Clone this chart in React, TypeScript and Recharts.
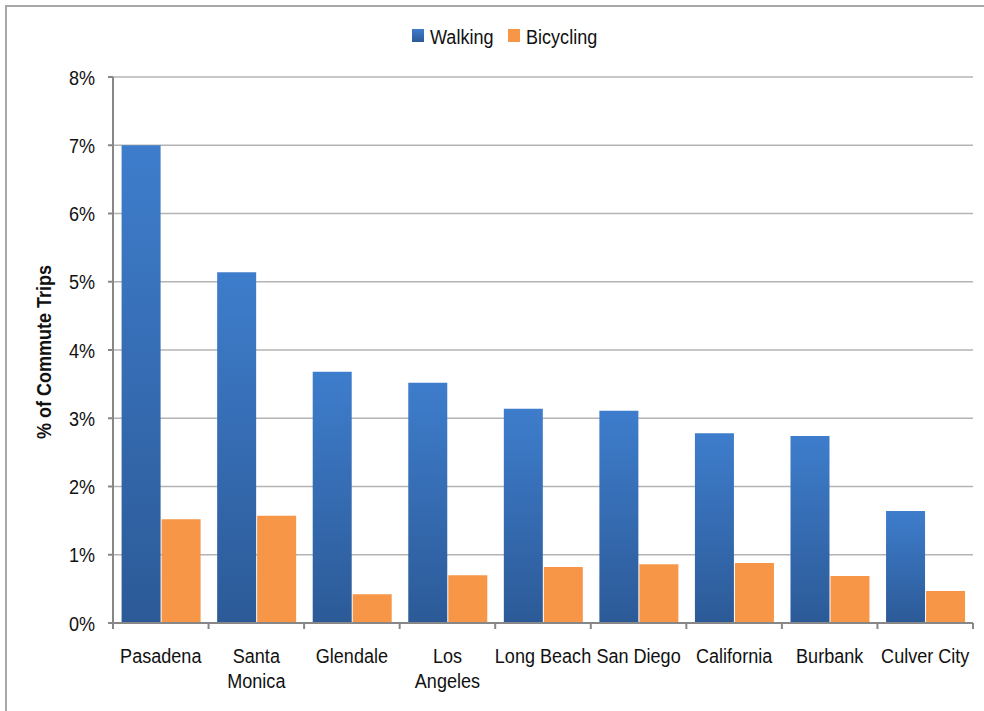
import React from "react";
import { BarChart, Bar, XAxis, YAxis, CartesianGrid, Label } from "recharts";

// Commute mode share by city (% of commute trips)
const cities = ["Pasadena", "Santa Monica", "Glendale", "Los Angeles", "Long Beach", "San Diego", "California", "Burbank", "Culver City"];
const tickLines = [["Pasadena"], ["Santa", "Monica"], ["Glendale"], ["Los", "Angeles"], ["Long Beach"], ["San Diego"], ["California"], ["Burbank"], ["Culver City"]];
const walking = [7.0, 5.14, 3.68, 3.52, 3.14, 3.11, 2.78, 2.74, 1.64];
const bicycling = [1.52, 1.57, 0.42, 0.7, 0.82, 0.86, 0.88, 0.69, 0.47];
const yTicks = [0, 1, 2, 3, 4, 5, 6, 7, 8];

const data = cities.map((c, i) => ({ city: c, walking: walking[i], bicycling: bicycling[i] }));

const W = 984;
const H = 711;
const PLOT_LEFT = 113;
const PLOT_RIGHT = 973;
const BAND = (PLOT_RIGHT - PLOT_LEFT) / cities.length;

// no narrow font installed, so squeeze Liberation Sans horizontally
const FONT = "'Liberation Sans', Arial, sans-serif";
const SQUEEZE = 0.86;
const AXIS = "#878787";
const GRID = "#b4b4b4";
const INK = "#111";
const ORANGE = "#f79646";

function CityTick(props: any) {
  const { x, y, index } = props;
  const lines = tickLines[index] ?? [props.payload?.value];
  const last = index === cities.length - 1;
  return (
    <g>
      <line x1={x - BAND / 2} x2={x - BAND / 2} y1={y} y2={y + 6} stroke={AXIS} strokeWidth={2} />
      {last && <line x1={x + BAND / 2} x2={x + BAND / 2} y1={y} y2={y + 6} stroke={AXIS} strokeWidth={2} />}
      <text transform={`translate(${x},${y + 40}) scale(${SQUEEZE},1)`} textAnchor="middle" fill={INK} fontSize={21} fontFamily={FONT}>
        {lines.map((l: string, i: number) => (
          <tspan key={i} x={0} dy={i ? 25 : 0}>{l}</tspan>
        ))}
      </text>
    </g>
  );
}

function PctTick(props: any) {
  const { x, y, payload } = props;
  return (
    <text transform={`translate(${x},${y}) scale(${SQUEEZE},1)`} textAnchor="end" dy="0.36em" fill={INK} fontSize={21} fontFamily={FONT}>
      {`${payload.value}%`}
    </text>
  );
}

const yLabel = () => (
  <text transform={`translate(44,352) rotate(-90) scale(0.9,1)`} textAnchor="middle" dominantBaseline="central"
    fill={INK} fontSize={20} fontWeight="bold" fontFamily={FONT}>
    % of Commute Trips
  </text>
);

function LegendBox() {
  return (
    <svg width={W} height={60} style={{ position: "absolute", left: 0, top: 0 }}>
      <defs>
        <linearGradient id="walkGradLegend" x1="0" y1="0" x2="0" y2="1">
          <stop offset="0%" stopColor="#3e7dcc" />
          <stop offset="100%" stopColor="#2c5a97" />
        </linearGradient>
      </defs>
      <rect x={412} y={29} width={12} height={13} fill="url(#walkGradLegend)" />
      <text transform={`translate(430,44) scale(${SQUEEZE},1)`} fill={INK} fontSize={21} fontFamily={FONT}>Walking</text>
      <rect x={508} y={29} width={12} height={13} fill={ORANGE} />
      <text transform={`translate(526,44) scale(${SQUEEZE},1)`} fill={INK} fontSize={21} fontFamily={FONT}>Bicycling</text>
    </svg>
  );
}

export default function App() {
  return (
    <div style={{ position: "absolute", left: 0, top: 0, width: W, height: H, background: "#fff", overflow: "hidden" }}>
      <div style={{ position: "absolute", left: 5, top: 5, width: W + 20, height: H + 20, border: "2px solid #a8a8a8" }} />

      <LegendBox />

      <div style={{ position: "absolute", left: 0, top: 0 }}>
        <BarChart width={W} height={H} data={data} margin={{ top: 77, right: W - PLOT_RIGHT, bottom: 8, left: 0 }}
          barCategoryGap="9%" barGap={1}>
          <defs>
            <linearGradient id="walkGrad" x1="0" y1="0" x2="0" y2="1">
              <stop offset="0%" stopColor="#3e7dcc" />
              <stop offset="100%" stopColor="#2c5a97" />
            </linearGradient>
          </defs>
          <CartesianGrid vertical={false} stroke={GRID} strokeWidth={1.5} />
          <XAxis dataKey="city" height={80} interval={0} tickSize={0} tickMargin={0} tickLine={false}
            axisLine={{ stroke: AXIS, strokeWidth: 2 }} tick={<CityTick />} />
          <YAxis width={PLOT_LEFT} domain={[0, 8]} ticks={yTicks} interval={0}
            axisLine={{ stroke: AXIS, strokeWidth: 2 }} tickLine={{ stroke: AXIS, strokeWidth: 2 }} tickSize={5} tickMargin={13}
            tick={<PctTick />}>
            <Label content={yLabel} />
          </YAxis>
          <Bar dataKey="walking" name="Walking" fill="url(#walkGrad)" isAnimationActive={false} />
          <Bar dataKey="bicycling" name="Bicycling" fill={ORANGE} isAnimationActive={false} />
        </BarChart>
      </div>
    </div>
  );
}
